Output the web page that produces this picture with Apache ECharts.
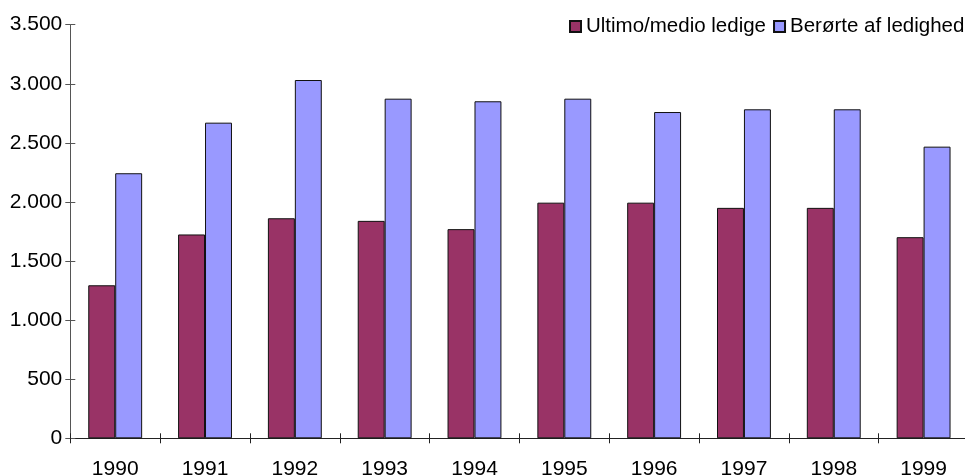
<!DOCTYPE html>
<html>
<head>
<meta charset="utf-8">
<script src="https://cdn.jsdelivr.net/npm/echarts@6/dist/echarts.min.js"></script>
<style>html,body{margin:0;padding:0;background:#fff;overflow:hidden}#c{width:969px;height:475px}</style>
</head>
<body>
<div id="c"></div>
<script>
var categories = ['1990','1991','1992','1993','1994','1995','1996','1997','1998','1999'];
var ultimoMedio = [1295, 1725, 1862, 1840, 1770, 1994, 1994, 1950, 1950, 1702];
var beroerte = [2243, 2671, 3032, 2874, 2852, 2874, 2761, 2784, 2784, 2468];
var seriesNames = ['Ultimo/medio ledige', 'Berørte af ledighed'];

var FONT = '"Liberation Sans", Arial, sans-serif';
var chart = echarts.init(document.getElementById('c'), null, {renderer: 'canvas'});
chart.setOption({
  animation: false,
  backgroundColor: '#ffffff',
  textStyle: {fontFamily: FONT},
  legend: {
    orient: 'horizontal',
    left: 564, top: 11, width: 600,
    itemWidth: 11, itemHeight: 11, itemGap: 7,
    icon: 'rect',
    textStyle: {fontSize: 20.5, color: '#000', fontFamily: FONT},
    data: seriesNames
  },
  grid: {left: 70.3, right: 0.5, top: 24.7, bottom: 36.7, containLabel: false, outerBoundsMode: 'none'},
  xAxis: [{
    type: 'category', data: categories, boundaryGap: true,
    axisLine: {lineStyle: {color: '#222', width: 1}},
    axisTick: {show: true, length: 5, inside: false, lineStyle: {color: '#222'}},
    axisLabel: {fontSize: 21, color: '#000', margin: 20, fontFamily: FONT},
    splitLine: {show: false}
  }, {
    type: 'category', data: categories, boundaryGap: true, position: 'bottom',
    axisLine: {show: false},
    axisTick: {show: true, length: 5, inside: true, lineStyle: {color: '#222'}},
    axisLabel: {show: false}, splitLine: {show: false}
  }],
  yAxis: [{
    type: 'value', min: 0, max: 3500, interval: 500,
    axisLine: {show: true, lineStyle: {color: '#555', width: 1}},
    axisTick: {show: true, length: 5, lineStyle: {color: '#555'}},
    axisLabel: {fontSize: 21, color: '#000', margin: 8, fontFamily: FONT,
      formatter: function (v) { return v >= 1000 ? Math.floor(v/1000) + '.' + String(v%1000).padStart(3,'0') : String(v); }},
    splitLine: {show: false}
  }, {
    type: 'value', min: 0, max: 3500, interval: 500, position: 'left', offset: 0,
    axisLine: {show: false},
    axisTick: {show: true, length: 5, inside: true, lineStyle: {color: '#555'}},
    axisLabel: {show: false}, splitLine: {show: false}
  }],
  series: [{
    name: seriesNames[0], type: 'bar', data: ultimoMedio,
    barGap: '0%', barCategoryGap: '40%',
    itemStyle: {color: '#993366', borderColor: '#111', borderWidth: 1}
  }, {
    name: seriesNames[1], type: 'bar', data: beroerte,
    barGap: '0%', barCategoryGap: '40%',
    itemStyle: {color: '#9999FF', borderColor: '#111', borderWidth: 1}
  }]
});
</script>
</body>
</html>
